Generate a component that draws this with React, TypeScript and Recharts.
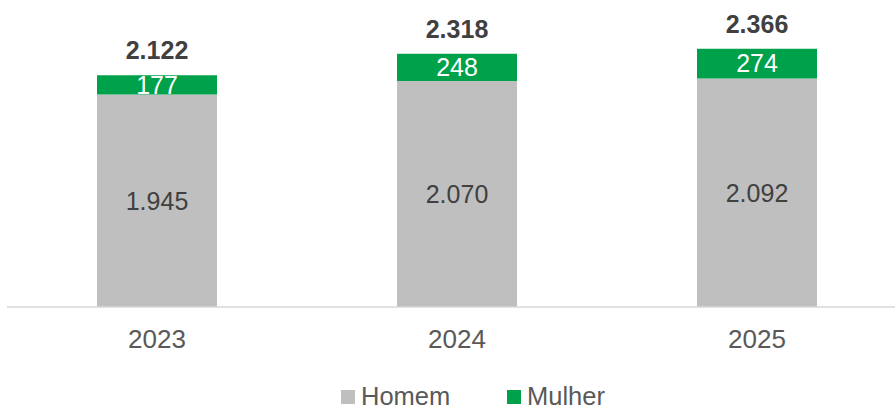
import React from 'react';
import { BarChart, Bar, XAxis, YAxis, LabelList } from 'recharts';

const years = ['2023', '2024', '2025'];
const homem = [1945, 2070, 2092];
const mulher = [177, 248, 274];
const totals = [2122, 2318, 2366];

const data = years.map((y, i) => ({ year: y, homem: homem[i], mulher: mulher[i], total: totals[i] }));

const fmt = (v: any) => String(v).replace(/\B(?=(\d{3})+(?!\d))/g, '.');

const FONT = '"Liberation Sans", Arial, sans-serif';
const GRAY = '#BFBFBF';
const GREEN = '#00A14B';

export default function App() {
  return (
    <div style={{ position: 'absolute', left: 0, top: 0, width: 895, height: 410, overflow: 'hidden', background: '#fff', fontFamily: FONT }}>
      <BarChart
        width={907}
        height={410}
        data={data}
        margin={{ top: 34, right: 0, left: 7, bottom: 63 }}
        barCategoryGap={180}
      >
        <XAxis
          dataKey="year"
          axisLine={{ stroke: '#D9D9D9', strokeWidth: 1.5 }}
          tickLine={false}
          tickSize={0}
          tickMargin={23}
          height={40}
          tick={{ fill: '#595959', fontSize: 26, fontFamily: FONT }}
          interval={0}
        />
        <YAxis hide domain={[0, 2500]} />
        <Bar dataKey="homem" stackId="a" fill={GRAY} barSize={120} isAnimationActive={false}>
          <LabelList dataKey="homem" position="center" fill="#404040" fontSize={25} fontFamily={FONT} formatter={fmt} />
        </Bar>
        <Bar dataKey="mulher" stackId="a" fill={GREEN} barSize={120} isAnimationActive={false}>
          <LabelList dataKey="mulher" position="center" fill="#FFFFFF" fontSize={25} fontFamily={FONT} formatter={fmt} />
          <LabelList dataKey="total" position="top" offset={16} fill="#404040" fontSize={25} fontWeight="bold" fontFamily={FONT} formatter={fmt} />
        </Bar>
      </BarChart>
      <div style={{ position: 'absolute', left: 341, top: 390, width: 14, height: 14, background: GRAY }} />
      <span style={{ position: 'absolute', left: 361, top: 384, fontSize: 25.5, lineHeight: '24px', color: '#595959', whiteSpace: 'nowrap' }}>Homem</span>
      <div style={{ position: 'absolute', left: 507, top: 390, width: 14, height: 14, background: GREEN }} />
      <span style={{ position: 'absolute', left: 527, top: 384, fontSize: 25.5, lineHeight: '24px', color: '#595959', whiteSpace: 'nowrap' }}>Mulher</span>
    </div>
  );
}
